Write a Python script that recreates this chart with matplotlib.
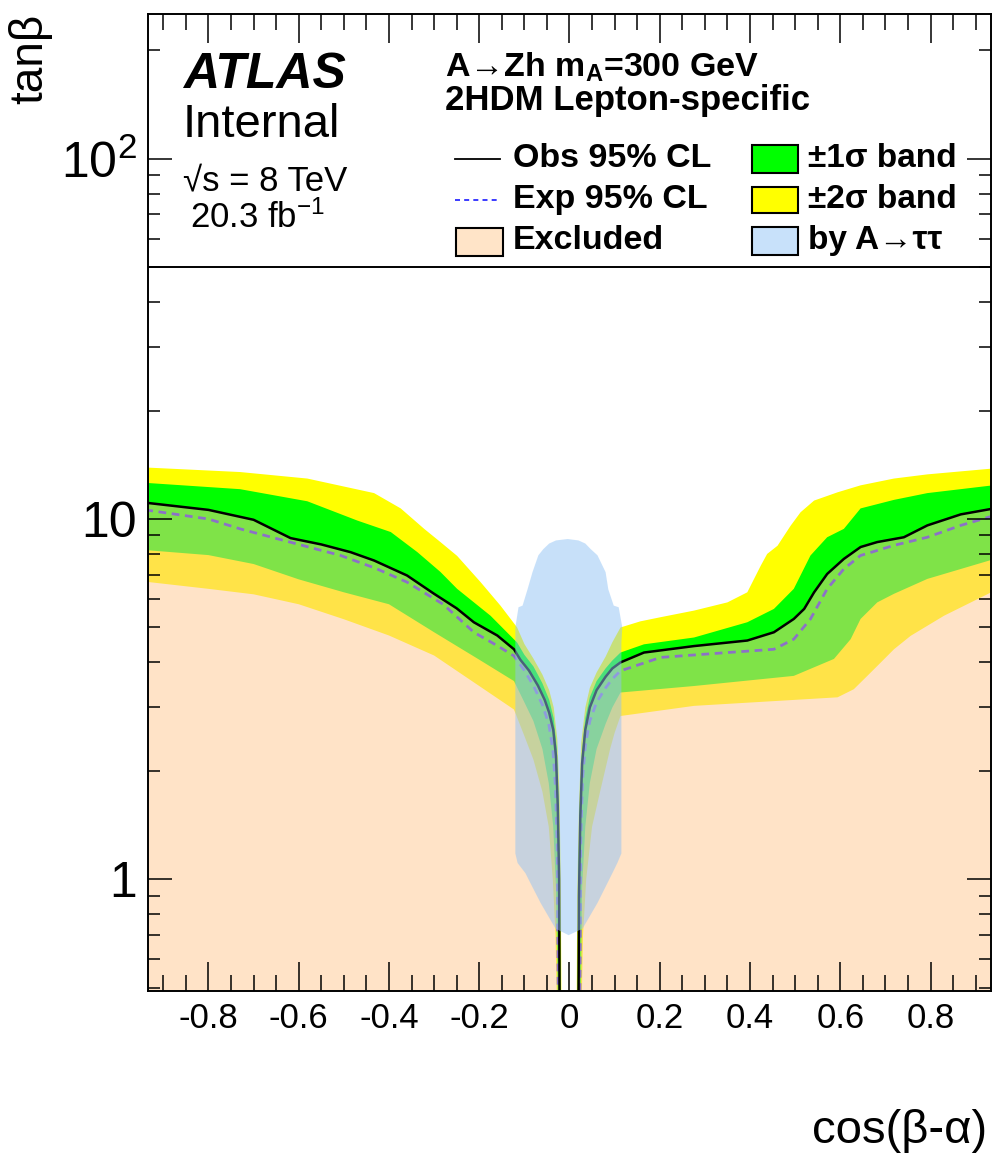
import matplotlib
matplotlib.use('Agg')
import matplotlib.pyplot as plt
from matplotlib.patches import Rectangle
from matplotlib.lines import Line2D
from matplotlib.ticker import MultipleLocator, LogLocator, FuncFormatter, NullFormatter

plt.rcParams['font.family'] = ['Liberation Sans', 'DejaVu Sans']
plt.rcParams['mathtext.fontset'] = 'custom'
plt.rcParams['mathtext.rm'] = 'Liberation Sans'
plt.rcParams['mathtext.bf'] = 'Liberation Sans:bold'
plt.rcParams['mathtext.it'] = 'Liberation Sans:italic'

# tan(beta) limits vs cos(beta-alpha); left branch runs outer edge -> centre,
# right branch runs centre -> outer edge
obs_l_x = [-0.94, -0.8, -0.7, -0.618, -0.55, -0.485, -0.433, -0.36, -0.30, -0.25, -0.212, -0.16, -0.123,
           -0.109, -0.09, -0.07, -0.055, -0.045, -0.036, -0.03, -0.026, -0.023, -0.022]
obs_l_y = [11.1, 10.6, 9.95, 8.85, 8.5, 8.09, 7.67, 6.97, 6.2, 5.65, 5.17, 4.75, 4.35,
           4.07, 3.8, 3.45, 3.15, 2.9, 2.6, 2.2, 1.6, 1.0, 0.45]
obs_r_x = [0.02, 0.021, 0.024, 0.028, 0.035, 0.045, 0.06, 0.08, 0.095, 0.113, 0.165, 0.276, 0.394,
           0.453, 0.497, 0.520, 0.542, 0.571, 0.608, 0.645, 0.682, 0.741, 0.793, 0.867, 0.95]
obs_r_y = [0.45, 0.9, 1.5, 2.1, 2.6, 3.0, 3.35, 3.65, 3.85, 4.0, 4.26, 4.44, 4.6,
           4.85, 5.28, 5.63, 6.26, 7.04, 7.75, 8.36, 8.63, 8.9, 9.6, 10.3, 10.75]

exp_l_x = [-0.94, -0.8, -0.73, -0.6, -0.507, -0.43, -0.36, -0.28, -0.212, -0.16, -0.123,
           -0.1, -0.08, -0.06, -0.046, -0.037, -0.031, -0.027, -0.025]
exp_l_y = [10.6, 10.0, 9.39, 8.5, 7.92, 7.3, 6.68, 5.8, 4.85, 4.45, 4.17,
           3.8, 3.45, 3.05, 2.7, 2.3, 1.8, 1.2, 0.45]
exp_r_x = [0.023, 0.025, 0.029, 0.035, 0.045, 0.06, 0.08, 0.095, 0.113, 0.202, 0.350, 0.453,
           0.497, 0.534, 0.571, 0.608, 0.645, 0.719, 0.793, 0.867, 0.95]
exp_r_y = [0.45, 1.3, 1.9, 2.35, 2.75, 3.1, 3.4, 3.6, 3.79, 4.13, 4.26, 4.35,
           4.64, 5.28, 6.4, 7.27, 7.92, 8.45, 8.9, 9.6, 10.3]

# +-1 sigma band edges
s1_hi_l_x = [-0.94, -0.73, -0.581, -0.47, -0.396, -0.337, -0.286, -0.249, -0.175, -0.116,
             -0.1, -0.08, -0.06, -0.045, -0.035, -0.028, -0.024, -0.021, -0.02]
s1_hi_l_y = [12.6, 12.1, 11.2, 9.9, 9.2, 8.09, 7.13, 6.4, 5.39, 4.54,
             4.2, 3.9, 3.5, 3.15, 2.8, 2.3, 1.6, 0.9, 0.45]
s1_lo_l_x = [-0.94, -0.8, -0.7, -0.6, -0.5, -0.4, -0.3, -0.2, -0.123,
             -0.1, -0.08, -0.06, -0.046, -0.036, -0.03, -0.026]
s1_lo_l_y = [8.2, 7.94, 7.5, 6.8, 6.26, 5.8, 4.85, 4.07, 3.55,
             3.1, 2.75, 2.3, 1.85, 1.4, 0.95, 0.45]
s1_hi_r_x = [0.018, 0.019, 0.022, 0.027, 0.035, 0.045, 0.06, 0.08, 0.095, 0.113, 0.165, 0.276,
             0.394, 0.453, 0.497, 0.534, 0.571, 0.608, 0.645, 0.719, 0.793, 0.95]
s1_hi_r_y = [0.45, 0.9, 1.5, 2.2, 2.8, 3.2, 3.55, 3.85, 4.05, 4.26, 4.49, 4.69,
             5.17, 5.63, 6.4, 7.92, 8.9, 9.39, 10.7, 11.3, 11.8, 12.45]
s1_lo_r_x = [0.025, 0.028, 0.035, 0.045, 0.06, 0.08, 0.095, 0.113, 0.276, 0.497, 0.586,
             0.623, 0.645, 0.682, 0.719, 0.793, 0.95]
s1_lo_r_y = [0.45, 0.95, 1.4, 1.85, 2.3, 2.7, 3.0, 3.3, 3.44, 3.67, 4.09,
             4.64, 5.28, 5.87, 6.2, 6.82, 7.8]

# +-2 sigma band edges
s2_hi_l_x = [-0.94, -0.73, -0.581, -0.433, -0.374, -0.322, -0.286, -0.249, -0.197, -0.153, -0.116,
             -0.1, -0.08, -0.06, -0.045, -0.035, -0.027, -0.022, -0.019, -0.018]
s2_hi_l_y = [13.9, 13.5, 12.95, 11.8, 10.7, 9.39, 8.63, 7.9, 6.68, 5.75, 5.0,
             4.5, 4.1, 3.7, 3.35, 3.0, 2.45, 1.7, 0.9, 0.45]
s2_lo_l_x = [-0.94, -0.8, -0.7, -0.6, -0.5, -0.4, -0.3, -0.2, -0.123,
             -0.1, -0.08, -0.06, -0.046, -0.037, -0.031, -0.028]
s2_lo_l_y = [6.7, 6.4, 6.18, 5.8, 5.27, 4.75, 4.18, 3.44, 2.96,
             2.5, 2.15, 1.75, 1.4, 1.0, 0.7, 0.45]
s2_hi_r_x = [0.016, 0.017, 0.021, 0.026, 0.035, 0.045, 0.06, 0.08, 0.095, 0.113, 0.157, 0.202,
             0.276, 0.350, 0.394, 0.424, 0.438, 0.461, 0.490, 0.512, 0.542, 0.594, 0.645, 0.719,
             0.793, 0.95]
s2_hi_r_y = [0.45, 0.9, 1.6, 2.4, 3.0, 3.4, 3.75, 4.15, 4.55, 5.0, 5.2, 5.34,
             5.57, 5.87, 6.26, 7.43, 8.0, 8.43, 9.58, 10.44, 11.25, 11.86, 12.4, 12.95,
             13.3, 13.85]
s2_lo_r_x = [0.027, 0.03, 0.037, 0.05, 0.07, 0.09, 0.1, 0.113, 0.276, 0.594, 0.630,
             0.660, 0.690, 0.719, 0.756, 0.830, 0.95]
s2_lo_r_y = [0.45, 0.7, 1.0, 1.4, 1.8, 2.3, 2.55, 2.84, 3.03, 3.2, 3.37,
             3.67, 4.0, 4.35, 4.74, 5.39, 6.4]

# region excluded by the A->tautau search
tt_x = [-0.002, -0.031, -0.064, -0.0865, -0.0976, -0.115, -0.12, -0.12, -0.113, -0.104, -0.093,
        -0.082, -0.069, -0.058, -0.045, -0.03, -0.004, 0.02, 0.035, 0.047, 0.062, 0.08, 0.086,
        0.098, 0.109, 0.117, 0.115, 0.115, 0.106, 0.095, 0.084, 0.062, 0.029]
tt_y = [0.70, 0.73, 0.86, 0.976, 1.04, 1.11, 1.18, 5.0, 5.69, 5.75, 6.38,
        7.12, 7.93, 8.25, 8.55, 8.72, 8.8, 8.72, 8.55, 8.25, 7.93, 7.12, 6.38,
        5.75, 5.69, 5.0, 4.54, 1.18, 1.11, 1.04, 0.976, 0.86, 0.73]

x_ticks_major = 0.2
x_ticks_minor = 0.05
y_labels = {1: '1', 10: '10', 100: r'$\mathregular{10^2}$'}

W, H = 994, 1155
fig = plt.figure(figsize=(W / 100, H / 100), dpi=100)
ax = fig.add_axes([148 / W, 1 - 991 / H, (991 - 148) / W, (991 - 14) / H])
ax.set_yscale('log')
ax.set_xlim(-0.934, 0.934)
ax.set_ylim(0.49, 252)
ax.set_axisbelow(False)

FLOOR = 0.3


def band(xt, yt, xb, yb, color, z):
    ax.fill(list(xt) + list(xb)[::-1], list(yt) + list(yb)[::-1],
            color=color, lw=0, zorder=z)


for side in [(s2_hi_l_x, s2_hi_l_y, s2_lo_l_x, s2_lo_l_y), (s2_hi_r_x, s2_hi_r_y, s2_lo_r_x, s2_lo_r_y)]:
    band(*side, color='#ffff00', z=1.0)
for side in [(s1_hi_l_x, s1_hi_l_y, s1_lo_l_x, s1_lo_l_y), (s1_hi_r_x, s1_hi_r_y, s1_lo_r_x, s1_lo_r_y)]:
    band(*side, color='#00ff00', z=1.05)

ax.plot(exp_l_x, exp_l_y, color='#1a1aff', lw=2.0, ls=(0, (2.8, 2.0)), zorder=1.1)
ax.plot(exp_r_x, exp_r_y, color='#1a1aff', lw=2.0, ls=(0, (2.8, 2.0)), zorder=1.1)

# excluded area below the observed limit (semi-transparent so the bands show through)
peach = '#ffc991'
ax.fill(obs_l_x + [obs_l_x[-1], -1.0, -1.0], obs_l_y + [FLOOR, FLOOR, obs_l_y[0]],
        color=peach, alpha=0.5, lw=0, zorder=1.2)
ax.fill(obs_r_x + [1.0, 1.0, obs_r_x[0]], obs_r_y + [obs_r_y[-1], FLOOR, FLOOR],
        color=peach, alpha=0.5, lw=0, zorder=1.2)

ax.plot(obs_l_x, obs_l_y, color='black', lw=1.8, zorder=1.3)
ax.plot(obs_r_x, obs_r_y, color='black', lw=1.8, zorder=1.3)

ax.fill(tt_x, tt_y, color='#91c3f5', alpha=0.5, lw=0, zorder=1.4)

# legend pad on top of the plot area
ax.axhspan(50, 400, color='white', lw=0, zorder=2.2)
ax.axhline(50, color='black', lw=1.4, zorder=2.3)

# axes styling
ax.xaxis.set_major_locator(MultipleLocator(x_ticks_major))
ax.xaxis.set_minor_locator(MultipleLocator(x_ticks_minor))


def xfmt(v, pos):
    s = f'{round(v, 1):g}'
    return '0' if s == '-0' else s


ax.xaxis.set_major_formatter(FuncFormatter(xfmt))
ax.yaxis.set_major_locator(LogLocator(base=10, numticks=10))
ax.yaxis.set_minor_locator(LogLocator(base=10, subs=range(2, 10), numticks=20))
ax.yaxis.set_major_formatter(FuncFormatter(lambda v, p: y_labels.get(int(round(v)), '')))
ax.yaxis.set_minor_formatter(NullFormatter())

ax.tick_params(which='both', direction='in', top=True, right=True, width=1.1, color='black')
ax.tick_params(axis='x', which='major', length=21, labelsize=25, pad=8)
ax.tick_params(axis='x', which='minor', length=11.5)
ax.tick_params(axis='y', which='major', length=17, labelsize=36, pad=8)
ax.tick_params(axis='y', which='minor', length=8.5)
for sp in ax.spines.values():
    sp.set_linewidth(1.4)
    sp.set_zorder(3)


def fx(px):
    return px / W


def fy(py):
    return 1 - py / H


fig.text(fx(30), fy(14), 'tanβ', rotation=90, ha='center', va='top', fontsize=33)
fig.text(fx(987), fy(1143), 'cos(β-α)', ha='right', va='baseline', fontsize=34)

fig.text(fx(183), fy(88), 'ATLAS', fontsize=36, weight='bold', style='italic', va='baseline')
fig.text(fx(183), fy(137), 'Internal', fontsize=34, va='baseline')
fig.text(fx(183), fy(190), '√s = 8 TeV', fontsize=25, va='baseline')
fig.text(fx(190), fy(228), r'20.3 fb$^{\mathregular{-1}}$', fontsize=25, va='baseline')

fig.text(fx(445), fy(77), r'A→Zh m$_{\mathbf{A}}$=300 GeV', fontsize=24.5, weight='bold', va='baseline')
fig.text(fx(445), fy(110), '2HDM Lepton-specific', fontsize=25, weight='bold', va='baseline')

# legend entries
fig.add_artist(Line2D([fx(455), fx(500)], [fy(159), fy(159)], transform=fig.transFigure,
                      color='black', lw=1.3))
fig.add_artist(Line2D([fx(455), fx(500)], [fy(200), fy(200)], transform=fig.transFigure,
                      color='#1a1aff', lw=1.2, ls=(0, (3, 2.5))))


def legend_box(x0, y0, x1, y1, color):
    fig.add_artist(Rectangle((fx(x0), fy(y1)), fx(x1) - fx(x0), fy(y0) - fy(y1),
                             transform=fig.transFigure, facecolor=color,
                             edgecolor='black', lw=1.5))


legend_box(456, 228, 503, 256, '#ffe4c8')
legend_box(752, 145, 798, 173, '#00ff00')
legend_box(752, 187, 798, 213, '#ffff00')
legend_box(752, 227, 798, 255, '#c8e1fa')

for txt, y in [('Obs 95% CL', 167), ('Exp 95% CL', 208), ('Excluded', 249)]:
    fig.text(fx(513), fy(y), txt, fontsize=24.5, weight='bold', va='baseline')
for txt, y in [('±1σ band', 167), ('±2σ band', 208), ('by A→ττ', 249)]:
    fig.text(fx(808), fy(y), txt, fontsize=24, weight='bold', va='baseline')

fig.savefig('out.png', dpi=100)
